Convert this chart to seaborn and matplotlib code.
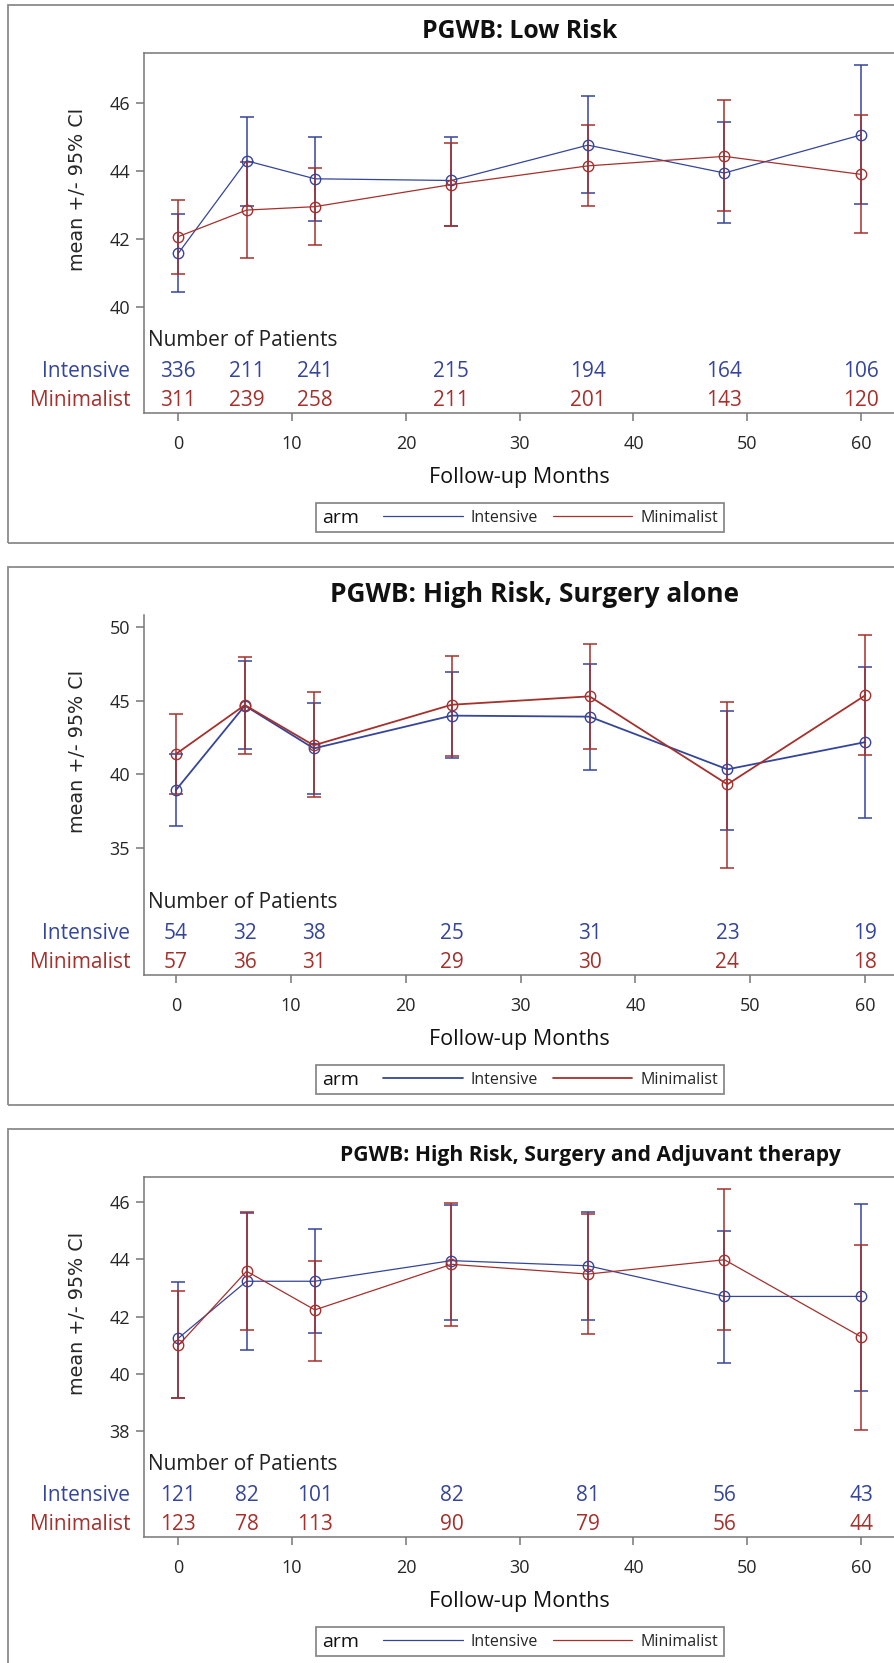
import matplotlib
matplotlib.use("Agg")
import matplotlib.pyplot as plt
import matplotlib.transforms as mtransforms
from matplotlib.patches import Rectangle
from matplotlib.lines import Line2D
import seaborn as sns

# --- data ---
months = [0, 6, 12, 24, 36, 48, 60]
arms = ["Intensive", "Minimalist"]

titles = ["PGWB: Low Risk",
          "PGWB: High Risk, Surgery alone",
          "PGWB: High Risk, Surgery and Adjuvant therapy"]

# Low risk
low_int_mean = [41.57, 44.29, 43.76, 43.71, 44.75, 43.93, 45.05]
low_int_lo = [40.42, 42.97, 42.53, 42.38, 43.33, 42.47, 43.03]
low_int_hi = [42.73, 45.57, 45.00, 45.00, 46.20, 45.42, 47.12]
low_min_mean = [42.06, 42.84, 42.94, 43.59, 44.14, 44.42, 43.89]
low_min_lo = [40.95, 41.42, 41.81, 42.36, 42.97, 42.81, 42.16]
low_min_hi = [43.14, 44.26, 44.08, 44.81, 45.34, 46.07, 45.64]
low_int_n = [336, 211, 241, 215, 194, 164, 106]
low_min_n = [311, 239, 258, 211, 201, 143, 120]

# High risk, surgery alone
surg_int_mean = [38.94, 44.68, 41.77, 44.00, 43.93, 40.35, 42.20]
surg_int_lo = [36.49, 41.73, 38.65, 41.14, 40.30, 36.22, 37.02]
surg_int_hi = [41.39, 47.73, 44.83, 46.99, 47.51, 44.31, 47.33]
surg_min_mean = [41.39, 44.72, 41.98, 44.74, 45.31, 39.33, 45.38]
surg_min_lo = [38.65, 41.39, 38.47, 41.28, 41.73, 33.66, 41.30]
surg_min_hi = [44.11, 47.96, 45.58, 48.03, 48.87, 44.95, 49.48]
surg_int_n = [54, 32, 38, 25, 31, 23, 19]
surg_min_n = [57, 36, 31, 29, 30, 24, 18]

# High risk, surgery and adjuvant therapy
adj_int_mean = [41.25, 43.24, 43.24, 43.96, 43.78, 42.71, 42.71]
adj_int_lo = [39.18, 40.84, 41.43, 41.89, 41.89, 40.39, 39.42]
adj_int_hi = [43.22, 45.64, 45.05, 45.90, 45.65, 45.01, 45.94]
adj_min_mean = [41.00, 43.59, 42.24, 43.83, 43.49, 43.99, 41.30]
adj_min_lo = [39.16, 41.53, 40.47, 41.68, 41.41, 41.53, 38.06]
adj_min_hi = [42.90, 45.67, 43.96, 45.96, 45.58, 46.47, 44.50]
adj_int_n = [121, 82, 101, 82, 81, 56, 43]
adj_min_n = [123, 78, 113, 90, 79, 56, 44]

y_ticks = [[40, 42, 44, 46], [35, 40, 45, 50], [38, 40, 42, 44, 46]]

# --- style ---
sns.set_style("white")
plt.rcParams["font.family"] = ["Open Sans", "DejaVu Sans"]
plt.rcParams["axes.edgecolor"] = "#777777"
plt.rcParams["axes.linewidth"] = 1.1

BLUE = "#35459A"
RED = "#A5302C"
colors = [BLUE, RED]

W, H = 894, 1663
fig = plt.figure(figsize=(W / 100, H / 100), dpi=100)

panel_off = [0, 562, 1124]
ylims = [(36.88, 47.46), (26.39, 50.84), (34.32, 46.88)]
xlims = [(-2.99, 62.9), (-2.75, 62.5), (-2.99, 62.9)]
line_w = [0.9, 1.3, 0.9]
title_x = [520, 535, 590]
title_size = [17.8, 18.9, 15.2]

panels = [
    (low_int_mean, low_int_lo, low_int_hi, low_min_mean, low_min_lo, low_min_hi, low_int_n, low_min_n),
    (surg_int_mean, surg_int_lo, surg_int_hi, surg_min_mean, surg_min_lo, surg_min_hi, surg_int_n, surg_min_n),
    (adj_int_mean, adj_int_lo, adj_int_hi, adj_min_mean, adj_min_lo, adj_min_hi, adj_int_n, adj_min_n),
]


def fx(px):
    return px / W


def fy(py):
    return 1 - py / H


for i, (im, ilo, ihi, mm, mlo, mhi, inn, mn) in enumerate(panels):
    off = panel_off[i]

    # outer panel frame
    fig.add_artist(Rectangle((fx(8.3), fy(543.3 + off)), 1.2, (543.3 - 4.7) / H,
                             transform=fig.transFigure, fill=False,
                             edgecolor="#8a8a8a", linewidth=1.3))

    ax = fig.add_axes([fx(144.3), fy(412.7 + off), 1 - fx(144.3), 359.7 / H])

    series = [(im, ilo, ihi), (mm, mlo, mhi)]
    for (mean, lo, hi), c in zip(series, colors):
        ax.errorbar(months, mean,
                    yerr=[[m - l for m, l in zip(mean, lo)], [h - m for m, h in zip(mean, hi)]],
                    fmt="none", ecolor=c, elinewidth=1.1, capsize=4.7, capthick=1.1, zorder=2)
        sns.lineplot(x=months, y=mean, color=c, lw=line_w[i], marker="o", ms=7.5,
                     mfc="none", mec=c, mew=1.0, ax=ax, zorder=3)

    ax.set_xlim(*xlims[i])
    ax.set_ylim(*ylims[i])
    ax.set_xticks(range(0, 61, 10))
    ax.set_yticks(y_ticks[i])
    ax.tick_params(axis="x", length=5.8, width=1.1, color="#777777", pad=10, labelsize=13,
                   bottom=True)
    ax.tick_params(axis="y", length=5.8, width=1.1, color="#777777", pad=4.5, labelsize=13,
                   left=True)
    ax.spines["right"].set_visible(False)
    if i == 1:
        ax.spines["top"].set_visible(False)
    ax.set_xlabel("")
    ax.set_ylabel("mean +/- 95% CI", family="DejaVu Sans", fontsize=13.8)
    ax.yaxis.set_label_coords(-0.077, 0.622)

    # title
    fig.text(fx(title_x[i]), fy(32 + off), titles[i], ha="center", va="center",
             fontsize=title_size[i], fontweight="bold", color="#111111")

    # number at risk table inside the axes
    tr = mtransforms.blended_transform_factory(ax.transData, ax.transAxes)
    ax.text(0.005, 0.200, "Number of Patients", transform=ax.transAxes,
            ha="left", va="center", fontsize=15, color="#222222")
    for n_row, yfrac, c, lab in [(inn, 0.114, colors[0], arms[0]), (mn, 0.035, colors[1], arms[1])]:
        ax.text(-0.019, yfrac, lab, transform=ax.transAxes, ha="right", va="center",
                fontsize=15, color=c, clip_on=False)
        for m, n in zip(months, n_row):
            ax.text(m, yfrac, str(n), transform=tr, ha="center", va="center",
                    fontsize=15, color=c)

    # x label
    fig.text(fx(519), fy(477.3 + off), "Follow-up Months", ha="center", va="center",
             fontsize=15.5, color="#111111")

    # legend
    fig.add_artist(Rectangle((fx(316), fy(532 + off)), (724 - 316) / W, (532 - 503) / H,
                             transform=fig.transFigure, fill=False,
                             edgecolor="#8a8a8a", linewidth=1.3))
    fig.text(fx(322), fy(518 + off), "arm", ha="left", va="center", fontsize=14,
             color="#111111")
    handles = [Line2D([], [], color=c, lw=line_w[i]) for c in colors]
    fig.legend(handles, arms, loc="center left",
               bbox_to_anchor=(fx(383), fy(517.5 + off)), bbox_transform=fig.transFigure,
               ncol=2, frameon=False, fontsize=11.5, handlelength=5.0,
               handletextpad=0.5, columnspacing=0.9, borderpad=0, borderaxespad=0)

fig.savefig("out.png", dpi=100)
